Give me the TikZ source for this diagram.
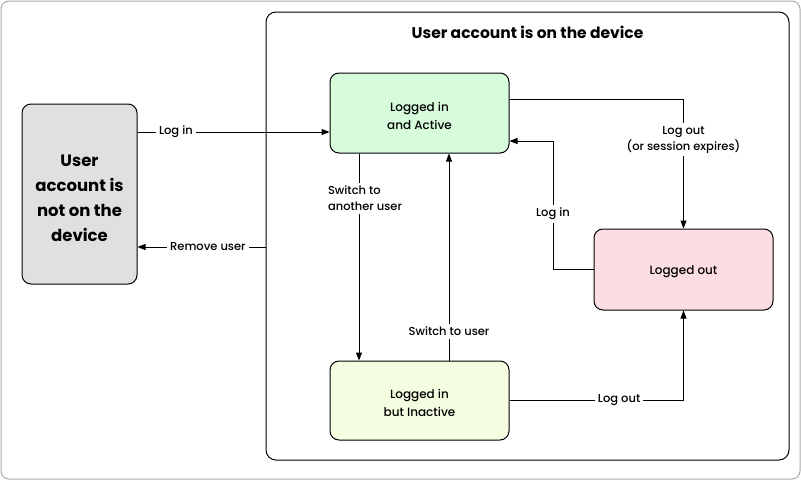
\documentclass[tikz,border=0pt]{standalone}
\usepackage{fontspec}
\setmainfont{Poppins}[UprightFont=* Medium, BoldFont=* Bold]
\usetikzlibrary{arrows.meta}
\definecolor{activefill}{RGB}{214,252,220}
\definecolor{outfill}{RGB}{252,221,225}
\definecolor{inactfill}{RGB}{244,253,224}
\definecolor{leftfill}{RGB}{224,224,224}
\definecolor{framegray}{RGB}{170,170,170}
\begin{document}
\begin{tikzpicture}[x=1pt,y=-1pt,
  statebox/.style={draw, line width=1pt, rounded corners=9pt, minimum width=179pt, minimum height=80pt, align=center, font=\fontsize{12}{18}\selectfont, inner sep=0pt},
  lbl/.style={fill=white, align=center, font=\fontsize{11.5}{16}\selectfont, inner sep=3pt},
  conn/.style={line width=1pt, -{Triangle[length=8pt,width=6pt]}}]
\useasboundingbox (0,0) rectangle (801,480);
\draw[line width=1pt, draw=framegray, rounded corners=8pt] (1,1) rectangle (800,479);
\node[draw, line width=1pt, rounded corners=10pt, minimum width=523pt, minimum height=448pt, inner sep=0pt] (frame) at (527.5,236) {};
\node[font=\bfseries\fontsize{15.5}{18}\selectfont] (title) at (527.5,32) {User account is on the device};
\node[draw, line width=1pt, rounded corners=9pt, fill=leftfill, minimum width=115pt, minimum height=180pt, align=center, inner sep=0pt, font=\bfseries\fontsize{16.5}{25}\selectfont] (left) at (79.5,194) {\rule{0pt}{20pt}User\\account is\\not on the\\device};
\node[statebox, fill=activefill] (active) at (419.5,113) {\rule{0pt}{15pt}Logged in\\and Active};
\node[statebox, fill=outfill, minimum height=81pt] (out) at (683.5,269.5) {\rule{0pt}{13pt}Logged out};
\node[statebox, fill=inactfill, minimum height=79pt] (inactive) at (419.5,400.5) {\rule{0pt}{15pt}Logged in\\but Inactive};
\coordinate (ya) at (0,132);
\coordinate (yb) at (0,247);
\coordinate (xa) at (359,0);
\coordinate (xb) at (449,0);
\coordinate (yc) at (0,99);
\coordinate (c1) at (553,141);
\coordinate (ye) at (0,400);
\draw[conn] (left.east |- ya) -- node[lbl, pos=0.2] {Log in} (active.west |- ya);
\draw[conn] (frame.west |- yb) -- node[lbl, pos=0.45] {Remove user} (left.east |- yb);
\draw[conn] (active.south -| xa) -- node[lbl, pos=0.216, align=left, xshift=6pt] {Switch to\\another user} (inactive.north -| xa);
\draw[conn] (inactive.north -| xb) -- node[lbl, pos=0.14] {Switch to user} (active.south -| xb);
\draw[conn] (active.east |- yc) -| node[lbl, pos=0.658] {Log out\\(or session expires)} (out.north);
\draw[conn] (out.west) -| node[lbl, pos=0.716] {Log in} (c1) -- (active.east |- c1);
\draw[conn] (inactive.east |- ye) -| node[lbl, pos=0.315] {Log out} (out.south);
\end{tikzpicture}
\end{document}
